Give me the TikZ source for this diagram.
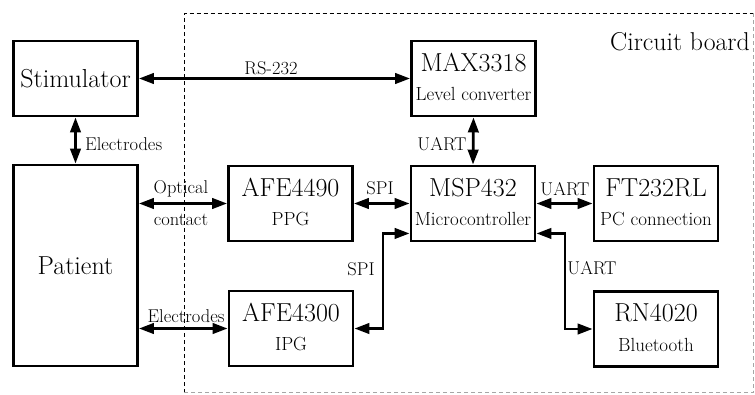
\documentclass[tikz,border=0pt]{standalone}
\usetikzlibrary{arrows.meta,calc}
\begin{document}
\begin{tikzpicture}[x=1pt,y=-1pt,
  box/.style={draw, line width=2.9pt, inner sep=0, minimum width=124pt, minimum height=75pt},
  big/.style={font=\fontsize{26}{28}\selectfont, inner sep=0},
  small/.style={font=\fontsize{19}{21}\selectfont, inner sep=0},
  lab/.style={font=\fontsize{18.5}{20}\selectfont, inner sep=0},
  conn/.style={line width=2.7pt, {Triangle[length=15pt,width=10.5pt]}-{Triangle[length=15pt,width=10.5pt]}},
  frame/.style={line width=1pt, dash pattern=on 4pt off 3pt},
]
\useasboundingbox (0,0) rectangle (755,394);
% circuit board frame
\draw[frame] (184,392.5) -- (184,13) -- (753.5,13);
\draw[frame, black!35] (753.5,13) -- (753.5,392.5) -- (184,392.5);
\node[big, anchor=east, font=\fontsize{25.8}{28}\selectfont] (cb) at (750,42) {Circuit board};
% boxes
\node[box] (stim) at (75.5,78.5) {};
\node[box, minimum height=201pt] (pat) at (75.5,265.5) {};
\node[box] (afeA) at (290.5,203.5) {};
\node[box] (afeB) at (291,328.5) {};
\node[box] (max) at (473.5,78.5) {};
\node[box] (msp) at (473,203.5) {};
\node[box] (ft) at (656,203.5) {};
\node[box] (rn) at (656,329) {};
% box texts
\node[big] (stim-t) at (stim) {Stimulator};
\node[big] (pat-t) at (pat) {Patient};
\node[big] (max-t) at ($(max)+(0,-16)$) {MAX3318};
\node[small] (max-s) at ($(max)+(0,15.5)$) {Level converter};
\node[big] (msp-t) at ($(msp)+(0,-16)$) {MSP432};
\node[small] (msp-s) at ($(msp)+(0,15.5)$) {Microcontroller};
\node[big] (ft-t) at ($(ft)+(0,-16)$) {FT232RL};
\node[small] (ft-s) at ($(ft)+(0,15.5)$) {PC connection};
\node[big] (afeA-t) at ($(afeA)+(0,-16)$) {AFE4490};
\node[small] (afeA-s) at ($(afeA)+(0,15.5)$) {PPG};
\node[big] (afeB-t) at ($(afeB)+(0,-16)$) {AFE4300};
\node[small] (afeB-s) at ($(afeB)+(0,15.5)$) {IPG};
\node[big] (rn-t) at ($(rn)+(0,-16)$) {RN4020};
\node[small] (rn-s) at ($(rn)+(0,15.5)$) {Bluetooth};
% helper coordinates
\coordinate (mspL) at ($(msp.south west)+(0,-9)$);
\coordinate (mspR) at ($(msp.south east)+(0,-9)$);
\coordinate (spix) at (383,0);
\coordinate (uartx) at (565,0);
% connectors
\draw[conn] (stim.east) -- (max.west);
\draw[conn] (stim.south) -- (pat.north);
\draw[conn] (max.south) -- (msp.north);
\draw[conn] (pat.east |- afeA.west) -- (afeA.west);
\draw[conn] (afeA.east) -- (msp.west);
\draw[conn] (msp.east) -- (ft.west);
\draw[conn] (pat.east |- afeB.west) -- (afeB.west);
\draw[conn] (afeB.east) -| (spix |- mspL) -- (mspL);
\draw[conn] (mspR) -| (uartx |- rn.west) -- (rn.west);
% connector labels
\node[lab] (l-rs) at (271,68) {RS-232};
\node[lab, anchor=west] (l-el1) at (85,144) {Electrodes};
\node[lab] (l-u1) at (442,144) {UART};
\node[lab] (l-opt) at (181,189) {Optical};
\node[lab] (l-con) at (181,220) {contact};
\node[lab] (l-spi1) at (380,188) {SPI};
\node[lab] (l-u2) at (565,189) {UART};
\node[lab] (l-spi2) at (361,269) {SPI};
\node[lab] (l-u3) at (592,268) {UART};
\node[lab] (l-el2) at (186,316) {Electrodes};
\end{tikzpicture}
\end{document}
